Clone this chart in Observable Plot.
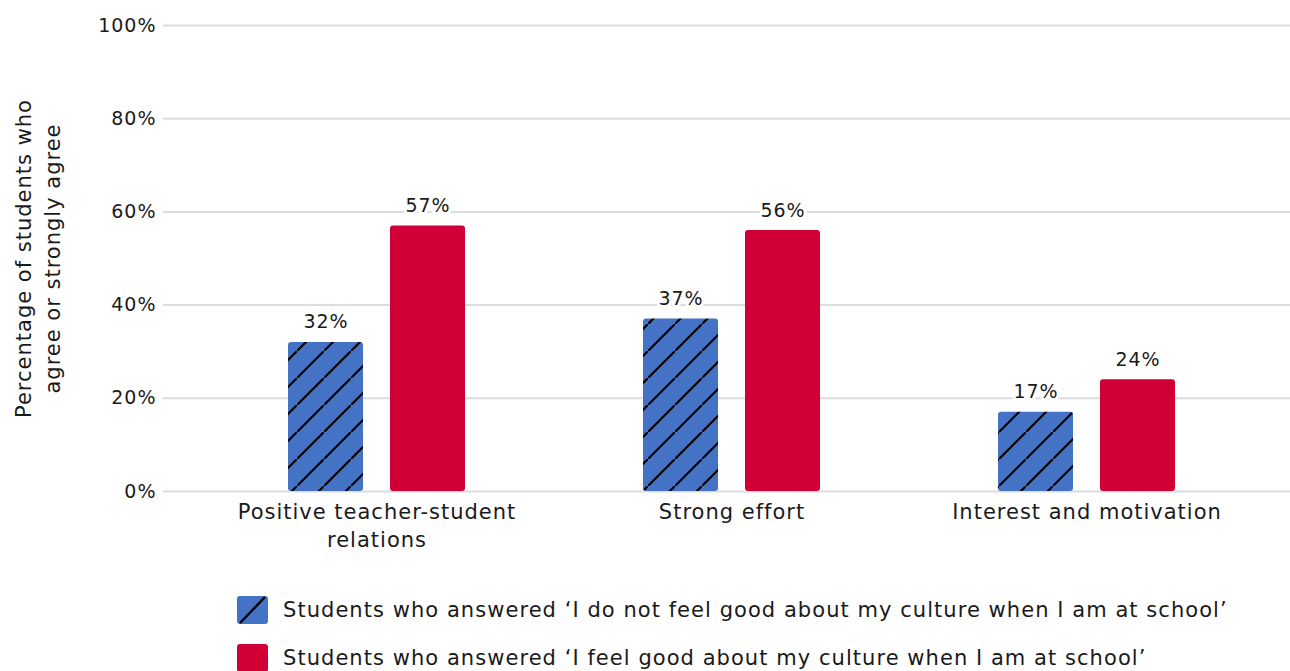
<!DOCTYPE html>
<html>
<head>
<meta charset="utf-8">
<script src="https://cdn.jsdelivr.net/npm/d3@7"></script>
<script src="https://cdn.jsdelivr.net/npm/@observablehq/plot@0.6"></script>
<style>
  html, body { margin: 0; padding: 0; background: #fff; }
  body { width: 1290px; height: 671px; overflow: hidden; font-family: "DejaVu Sans", sans-serif; color: #1a1a1a; }
  #chart svg { display: block; }
  .legend { margin-top: 21px; padding-left: 237px; }
  .legend .row { display: flex; align-items: center; height: 48px; font-size: 21px; letter-spacing: 1.05px; white-space: nowrap; }
  .legend .sw { width: 31px; height: 28px; margin-right: 15px; display: block; flex: none; }
</style>
</head>
<body>
<div id="chart"></div>
<div class="legend" id="legend"></div>
<script>
const categories = ["Positive teacher-student\nrelations", "Strong effort", "Interest and motivation"];
const seriesNames = [
  "Students who answered \u2018I do not feel good about my culture when I am at school\u2019",
  "Students who answered \u2018I feel good about my culture when I am at school\u2019"
];
const notGoodValues = [32, 37, 17];
const feelGoodValues = [57, 56, 24];
const yTicks = [0, 20, 40, 60, 80, 100];
const yLabel = "Percentage of students who\nagree or strongly agree";
const colors = ["#4472C4", "#D00037"];

const rowsNotGood = categories.map((c, i) => ({category: c, value: notGoodValues[i]}));
const rowsFeelGood = categories.map((c, i) => ({category: c, value: feelGoodValues[i]}));

const font = "'DejaVu Sans', sans-serif";

const svg = Plot.plot({
  width: 1290,
  height: 565,
  marginLeft: 163,
  marginRight: 0,
  marginTop: 25,
  marginBottom: 74,
  style: {fontFamily: font, fontSize: "19px", color: "#1a1a1a", background: "white", letterSpacing: "1px"},
  x: {domain: categories, range: [198.5, 1263.5], padding: 0, axis: null},
  y: {domain: [0, 100], axis: null},
  marks: [
    Plot.gridY(yTicks, {stroke: "#dcdcdc", strokeOpacity: 1, strokeWidth: 2}),
    Plot.axisY(yTicks, {tickSize: 0, tickPadding: 7, tickFormat: d => d + "%", label: null, fontSize: 19}),
    Plot.barY(rowsNotGood, {x: "category", y: "value", fill: "url(#hatch)", insetLeft: 89, insetRight: 191, rx: 3}),
    Plot.barY(rowsFeelGood, {x: "category", y: "value", fill: colors[1], insetLeft: 191, insetRight: 89, rx: 3}),
    Plot.text(rowsNotGood, {x: "category", y: "value", text: d => d.value + "%", dx: -51, dy: -20, fontSize: 19, fill: "#1a1a1a", stroke: "white", strokeWidth: 6}),
    Plot.text(rowsFeelGood, {x: "category", y: "value", text: d => d.value + "%", dx: 51, dy: -20, fontSize: 19, fill: "#1a1a1a", stroke: "white", strokeWidth: 6}),
    Plot.text(categories, {x: d => d, frameAnchor: "bottom", lineAnchor: "top", dy: 8, fontSize: 21, lineHeight: 1.33, fill: "#1a1a1a"}),
    Plot.text([yLabel], {frameAnchor: "left", textAnchor: "middle", rotate: -90, dx: -127, lineHeight: 1.35, fontSize: 21, fill: "#1a1a1a"})
  ]
});

// hatch pattern definition
const NS = "http://www.w3.org/2000/svg";
const defs = document.createElementNS(NS, "defs");
const pat = document.createElementNS(NS, "pattern");
pat.setAttribute("id", "hatch");
pat.setAttribute("patternUnits", "userSpaceOnUse");
pat.setAttribute("width", "27");
pat.setAttribute("height", "27");
const bg = document.createElementNS(NS, "rect");
bg.setAttribute("width", "27");
bg.setAttribute("height", "27");
bg.setAttribute("fill", colors[0]);
pat.appendChild(bg);
const ln = document.createElementNS(NS, "path");
ln.setAttribute("d", "M-2,29 L29,-2 M-6,4 L4,-6 M23,33 L33,23");
ln.setAttribute("stroke", "#000");
ln.setAttribute("stroke-width", "2.2");
pat.appendChild(ln);
defs.appendChild(pat);
svg.insertBefore(defs, svg.firstChild);

document.getElementById("chart").appendChild(svg);

// legend
const legend = document.getElementById("legend");
seriesNames.forEach((name, i) => {
  const row = document.createElement("div");
  row.className = "row";
  const sw = i === 0
    ? `<svg class="sw" viewBox="0 0 31 28"><rect width="31" height="28" rx="3" fill="${colors[0]}"/><path d="M3,27 L28,1" stroke="#000" stroke-width="2.4"/></svg>`
    : `<svg class="sw" viewBox="0 0 31 28"><rect width="31" height="28" rx="3" fill="${colors[1]}"/></svg>`;
  row.innerHTML = sw + `<span>${name}</span>`;
  legend.appendChild(row);
});
</script>
</body>
</html>
